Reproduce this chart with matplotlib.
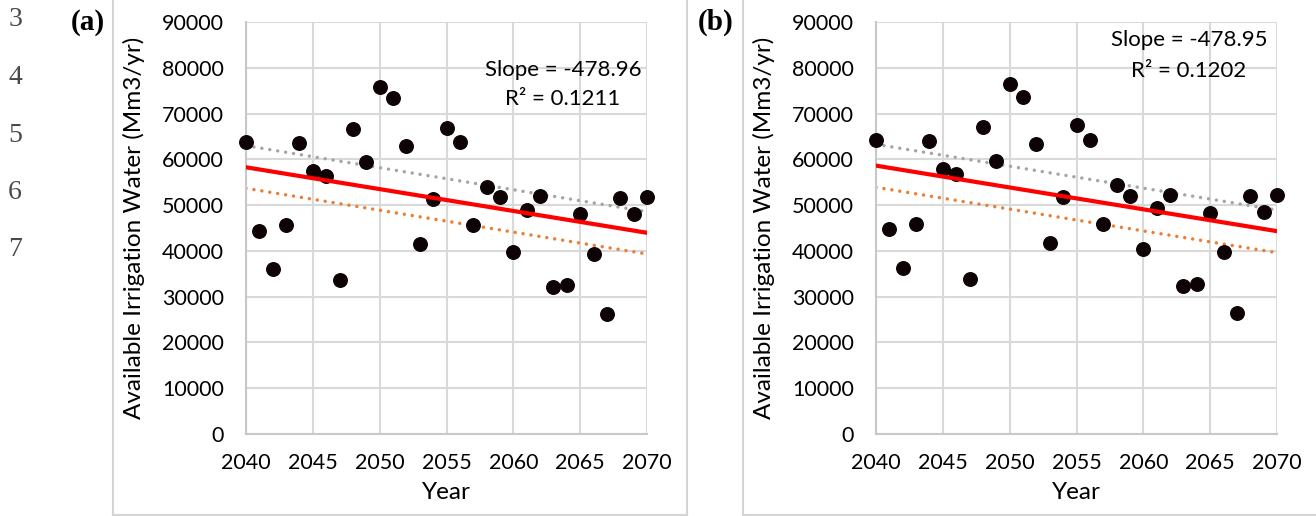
#!/usr/bin/env python3
"""Annual available irrigation water 2040-2070, two scenarios, with trend lines."""
import matplotlib
matplotlib.use("Agg")
import matplotlib.pyplot as plt
from matplotlib.lines import Line2D
import numpy as np

years = np.arange(2040, 2071)

# panel (a)
water_a = [63850, 44400, 36040, 45580, 63640, 57450, 56430, 33640, 66620, 59340,
           75800, 73320, 62910, 41430, 51260, 66910, 63780, 45580, 54030, 51840,
           39830, 48970, 51990, 32040, 32550, 47980, 39320, 26290, 51620, 48130,
           51840]
# panel (b)
water_b = [64220, 44710, 36330, 45870, 64000, 57810, 56790, 33860, 67060, 59700,
           76380, 73690, 63280, 41650, 51700, 67420, 64220, 45870, 54390, 52070,
           40340, 49440, 52210, 32330, 32840, 48340, 39830, 26510, 51990, 48490,
           52140]

# dotted reference trends (value at 2040, value at 2070)
trend_years = [2040, 2070]
upper_a = [62980, 48560]
lower_a = [53670, 39320]
upper_b = [63280, 48930]
lower_b = [53890, 39600]

stats_a = ["Slope = -478.96", "R\u00b2 = 0.1211"]
stats_b = ["Slope = -478.95", "R\u00b2 = 0.1202"]

FONT = "Lato"
GRID = "#d9d9d9"
W, H = 1316, 516

fig = plt.figure(figsize=(W / 100, H / 100), dpi=100)


def fx(px):
    return px / W


def fy(py):
    return 1 - py / H


def draw_panel(left_px, values, upper, lower, stats, stats_xy, gap):
    ax = fig.add_axes([fx(left_px), fy(434), fx(401), 412 / H])
    ax.set_xlim(2040, 2070)
    ax.set_ylim(0, 90000)
    ax.set_xticks(range(2040, 2071, 5))
    ax.set_yticks(range(0, 90001, 10000))
    ax.grid(True, color=GRID, lw=1.5)
    ax.set_axisbelow(True)
    for side in ["top", "right"]:
        ax.spines[side].set_visible(False)
    for side in ["left", "bottom"]:
        ax.spines[side].set_color("#c8c8c8")
        ax.spines[side].set_linewidth(1.5)
    ax.tick_params(length=0, labelsize=15.5)
    ax.tick_params(axis="x", pad=14)
    ax.tick_params(axis="y", pad=16)
    for lab in ax.get_xticklabels() + ax.get_yticklabels():
        lab.set_fontfamily(FONT)

    vals = np.array(values, dtype=float)
    slope, icpt = np.polyfit(years, vals, 1)
    ax.plot(trend_years, upper, color="#a5a5a5", lw=2.5, ls=(0, (0.01, 2.3)),
            dash_capstyle="round", zorder=2)
    ax.plot(trend_years, lower, color="#ed7d31", lw=2.5, ls=(0, (0.01, 2.3)),
            dash_capstyle="round", zorder=2)
    ax.scatter(years, vals, s=95, color="#0d0204", zorder=3, clip_on=False)
    ax.plot(trend_years, slope * np.array(trend_years) + icpt, color="#ff0000",
            lw=3, zorder=4)

    ax.set_xlabel("Year", fontsize=17.5, family=FONT, labelpad=6)
    ax.set_ylabel("Available Irrigation Water (Mm3/yr)", fontsize=17.5,
                  family=FONT, labelpad=12)
    fig.text(fx(stats_xy[0]), fy(stats_xy[1]), stats[0], ha="center", va="center",
             fontsize=16, family=FONT)
    fig.text(fx(stats_xy[0]), fy(stats_xy[1] + gap), stats[1], ha="center",
             va="center", fontsize=16, family=FONT)
    return ax


draw_panel(246, water_a, upper_a, lower_a, stats_a, (563, 70), 29)
draw_panel(876, water_b, upper_b, lower_b, stats_b, (1189, 40), 31)

# table borders around the panels
border = dict(color="#d4d4d4", lw=1.5, transform=fig.transFigure)
fig.add_artist(Line2D([fx(113), fx(113)], [1, fy(515)], **border))
fig.add_artist(Line2D([fx(687), fx(687)], [1, fy(515)], **border))
fig.add_artist(Line2D([fx(743), fx(743)], [1, fy(515)], **border))
fig.add_artist(Line2D([fx(113), fx(687)], [fy(515), fy(515)], **border))
fig.add_artist(Line2D([fx(743), 1], [fy(515), fy(515)], **border))

# panel labels and document line numbers
fig.text(fx(88), fy(22), "(a)", ha="center", va="center", fontsize=21,
         family="Liberation Serif", weight="bold")
fig.text(fx(716), fy(22), "(b)", ha="center", va="center", fontsize=21,
         family="Liberation Serif", weight="bold")
for i, num in enumerate(["3", "4", "5", "6", "7"]):
    fig.text(fx(15), fy(20 + 57.5 * i), num, ha="center", va="center",
             fontsize=20, family="Liberation Serif", color="#4a4a4a")

fig.savefig("out.png", dpi=100)
